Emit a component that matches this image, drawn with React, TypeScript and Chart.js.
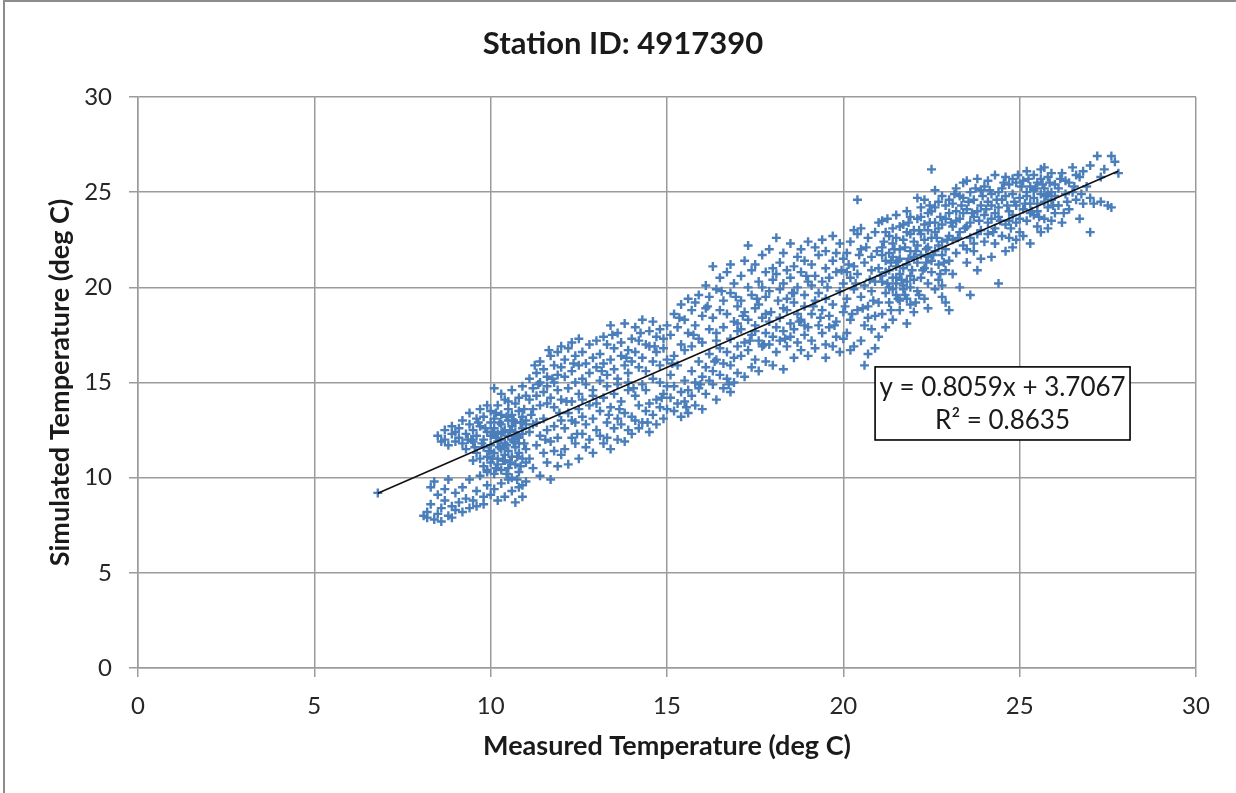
import React, { useEffect, useRef } from "react";
import { Chart, registerables } from "chart.js";

Chart.register(...registerables);

// ---------- Chart texts ----------
const chartTitle = "Station ID: 4917390";
const xAxisTitle = "Measured Temperature (deg C)";
const yAxisTitle = "Simulated Temperature (deg C)";
const equationLines = ["y = 0.8059x + 3.7067", "R\u00B2 = 0.8635"];

// ---------- Axis ticks ----------
const xTickValues = [0, 5, 10, 15, 20, 25, 30];
const yTickValues = [0, 5, 10, 15, 20, 25, 30];

// ---------- Trendline (from the displayed regression equation) ----------
const trendSlope = 0.8059;
const trendIntercept = 3.7067;
const trendRange = [6.8, 27.8];

// ---------- Observations: [measured, simulated] (deg C) ----------
const coolRange: number[][] = [
  [6.8, 9.2],
  [8.1, 8.0], [8.2, 7.9], [8.2, 8.2], [8.3, 9.5], [8.3, 8.6], [8.4, 7.8], [8.4, 9.8], [8.5, 8.1], [8.5, 9.1], [8.6, 7.7],
  [8.6, 8.4], [8.7, 9.4], [8.7, 8.8], [8.8, 8.0], [8.8, 9.9], [8.9, 8.5], [8.9, 7.9], [9.0, 9.2], [9.0, 8.3],
  [8.5, 12.2], [8.6, 11.9], [8.7, 12.5], [8.7, 12.0], [8.8, 11.7], [8.9, 12.3], [8.9, 12.7], [9.0, 11.9], [9.0, 12.4],
  [9.1, 8.7], [9.2, 8.2], [9.2, 9.5], [9.3, 8.9], [9.4, 8.4], [9.4, 9.9], [9.5, 8.8], [9.6, 9.3], [9.6, 8.5], [9.7, 10.1],
  [9.8, 9.0], [9.8, 8.6], [9.9, 9.6], [9.9, 10.3], [10.0, 9.1],
  [9.1, 12.1], [9.1, 12.6], [9.2, 11.8], [9.2, 13.0], [9.3, 12.3], [9.3, 11.5], [9.4, 12.8], [9.4, 13.4], [9.5, 11.9], [9.5, 12.5],
  [9.5, 10.9], [9.6, 13.1], [9.6, 11.3], [9.6, 12.2], [9.7, 12.7], [9.7, 11.0], [9.7, 13.6], [9.8, 12.0], [9.8, 10.6], [9.8, 11.6],
  [9.8, 13.2], [9.9, 12.4], [9.9, 11.1], [9.9, 13.8], [9.9, 10.4], [10.0, 12.9], [10.0, 11.7], [10.0, 10.8], [10.0, 12.2], [10.0, 13.5],
  [10.1, 14.7], [10.1, 11.3], [10.1, 12.6], [10.1, 10.2], [10.1, 13.1], [10.2, 11.9], [10.2, 10.7], [10.2, 12.3], [10.2, 13.8], [10.2, 11.0],
  [10.3, 12.8], [10.3, 11.5], [10.3, 10.4], [10.3, 13.3], [10.3, 12.0], [10.4, 11.2], [10.4, 12.5], [10.4, 10.9], [10.4, 14.1], [10.4, 11.8],
  [10.5, 13.0], [10.5, 12.2], [10.5, 10.5], [10.5, 11.4], [10.5, 13.6], [10.6, 12.7], [10.6, 11.1], [10.6, 12.0], [10.6, 10.0], [10.6, 13.3],
  [10.7, 11.6], [10.7, 12.4], [10.7, 10.7], [10.7, 13.9], [10.7, 12.9], [10.8, 11.3], [10.8, 12.1], [10.8, 10.3], [10.8, 13.5], [10.8, 11.8],
  [10.9, 12.6], [10.9, 11.0], [10.9, 13.2], [10.9, 12.3], [10.9, 9.6], [11.0, 11.5], [11.0, 12.8], [11.0, 10.8], [11.0, 14.3], [11.0, 13.0],
  [10.1, 9.4], [10.2, 8.8], [10.3, 9.7], [10.4, 9.0], [10.5, 9.9], [10.6, 9.3], [10.7, 8.7], [10.8, 9.5], [10.9, 9.0], [11.0, 9.8],
  [10.3, 14.4], [10.5, 14.0], [10.6, 14.6], [10.8, 14.2], [10.9, 14.8],
  [9.45, 12.0], [9.55, 11.6], [9.65, 12.9], [9.75, 11.8], [9.85, 12.6], [9.95, 11.4], [10.05, 12.4], [10.05, 11.0], [10.15, 13.4], [10.15, 12.1],
  [10.25, 11.6], [10.25, 12.9], [10.35, 10.9], [10.35, 12.4], [10.45, 13.2], [10.45, 11.7], [10.55, 12.5], [10.55, 10.8], [10.65, 11.9], [10.65, 13.0],
  [10.75, 12.2], [10.75, 11.1], [10.85, 12.9], [10.85, 10.6], [10.95, 11.8], [10.95, 13.6], [10.15, 10.5], [10.45, 10.2], [10.75, 9.9], [9.35, 12.0],
];

const mildRange: number[][] = [
  [11.1, 14.1], [11.1, 15.2], [11.2, 13.6], [11.2, 14.7], [11.3, 15.5], [11.3, 14.3], [11.4, 13.8], [11.4, 15.0], [11.4, 16.1], [11.5, 14.5],
  [11.5, 15.7], [11.6, 13.9], [11.6, 15.3], [11.6, 14.8], [11.7, 16.4], [11.7, 14.2], [11.8, 15.0], [11.8, 15.9], [11.8, 13.7], [11.9, 14.6],
  [11.9, 16.6], [11.9, 15.4], [12.0, 14.1], [12.0, 15.8], [12.0, 16.9],
  [11.1, 12.4], [11.1, 11.0], [11.2, 12.8], [11.2, 10.5], [11.3, 11.7], [11.3, 12.9], [11.4, 10.1], [11.4, 12.2], [11.5, 11.3], [11.5, 13.1],
  [11.6, 10.8], [11.6, 12.5], [11.7, 11.9], [11.7, 9.9], [11.8, 12.7], [11.8, 11.4], [11.9, 10.6], [11.9, 12.1], [12.0, 11.2], [12.0, 13.0],
  [12.1, 15.3], [12.1, 16.2], [12.2, 14.7], [12.2, 16.8], [12.3, 15.6], [12.3, 17.1], [12.4, 15.0], [12.4, 16.4], [12.5, 14.4], [12.5, 15.9],
  [12.5, 17.3], [12.6, 16.6], [12.6, 15.2], [12.7, 14.9], [12.7, 16.0], [12.8, 17.0], [12.8, 15.5], [12.9, 16.3], [12.9, 14.6], [13.0, 15.8],
  [13.0, 17.2],
  [12.1, 12.6], [12.1, 11.5], [12.2, 13.4], [12.2, 10.7], [12.3, 12.1], [12.3, 13.0], [12.4, 11.8], [12.4, 12.9], [12.5, 13.6], [12.5, 11.0],
  [12.6, 12.3], [12.6, 13.2], [12.7, 11.6], [12.7, 12.8], [12.8, 13.8], [12.8, 12.0], [12.9, 11.3], [12.9, 13.1], [13.0, 12.5], [13.0, 13.9],
  [12.3, 14.0], [12.6, 14.1], [12.9, 14.3],
  [13.1, 16.5], [13.1, 15.1], [13.2, 17.4], [13.2, 16.0], [13.3, 15.4], [13.3, 17.0], [13.4, 16.2], [13.4, 18.0], [13.5, 15.7], [13.5, 16.8],
  [13.6, 17.6], [13.6, 15.2], [13.7, 16.4], [13.7, 17.1], [13.8, 15.9], [13.8, 18.1], [13.9, 16.7], [13.9, 15.5], [14.0, 17.3], [14.0, 16.1],
  [13.1, 12.2], [13.1, 13.5], [13.2, 11.8], [13.2, 14.2], [13.3, 12.9], [13.3, 12.1], [13.4, 13.7], [13.4, 11.5], [13.5, 12.6], [13.5, 14.4],
  [13.6, 13.1], [13.6, 12.0], [13.7, 14.0], [13.7, 12.8], [13.8, 13.4], [13.8, 11.9], [13.9, 12.5], [13.9, 14.6], [14.0, 13.2], [14.0, 12.3],
  [13.3, 14.8], [13.6, 14.9], [13.9, 15.0],
  [14.1, 16.6], [14.1, 17.9], [14.2, 15.8], [14.2, 17.2], [14.3, 16.3], [14.3, 18.3], [14.4, 17.0], [14.4, 15.6], [14.5, 16.9], [14.5, 17.7],
  [14.6, 16.1], [14.6, 18.2], [14.7, 17.4], [14.7, 16.6], [14.8, 15.9], [14.8, 17.8], [14.9, 16.8], [14.9, 17.3], [15.0, 16.2], [15.0, 18.0],
  [14.1, 13.0], [14.1, 14.3], [14.2, 12.6], [14.2, 13.8], [14.3, 14.9], [14.3, 12.9], [14.4, 13.5], [14.4, 14.6], [14.5, 12.4], [14.5, 13.9],
  [14.6, 15.2], [14.6, 13.3], [14.7, 14.1], [14.7, 12.8], [14.8, 13.7], [14.8, 15.0], [14.9, 14.4], [14.9, 13.1], [15.0, 14.8], [15.0, 13.6],
  [11.15, 13.3], [11.35, 14.9], [11.55, 12.0], [11.75, 15.2], [11.95, 13.4], [12.15, 14.0], [12.35, 16.0], [12.45, 12.3], [11.25, 15.9], [11.65, 16.7],
  [13.15, 15.6], [13.45, 17.5], [13.65, 13.6], [13.85, 16.3], [14.05, 14.7], [14.25, 17.6], [14.45, 12.9], [14.65, 16.9], [14.85, 14.2], [13.35, 13.3],
];

const warmRange: number[][] = [
  [15.1, 17.5], [15.2, 18.6], [15.2, 16.4], [15.3, 17.9], [15.4, 19.1], [15.4, 17.0], [15.5, 18.3], [15.5, 16.7], [15.6, 19.4], [15.6, 17.6],
  [15.7, 18.8], [15.7, 16.9], [15.8, 19.2], [15.8, 18.0], [15.9, 17.3], [15.9, 19.6], [16.0, 18.5], [16.0, 17.1],
  [15.1, 14.2], [15.1, 15.4], [15.2, 13.5], [15.2, 14.8], [15.3, 13.9], [15.3, 15.9], [15.4, 14.5], [15.4, 13.2], [15.5, 15.1], [15.5, 14.0],
  [15.6, 14.6], [15.6, 13.4], [15.7, 15.6], [15.7, 14.3], [15.8, 13.8], [15.8, 15.0], [15.9, 14.7], [15.9, 16.1], [16.0, 13.6], [16.0, 15.3],
  [16.1, 18.9], [16.1, 20.1], [16.2, 17.8], [16.2, 19.5], [16.3, 21.1], [16.3, 18.4], [16.4, 19.9], [16.4, 17.6], [16.5, 18.8], [16.5, 20.5],
  [16.6, 19.3], [16.6, 17.9], [16.7, 20.8], [16.7, 18.6], [16.8, 19.7], [16.8, 21.2], [16.9, 18.2], [16.9, 20.2], [17.0, 19.0], [17.0, 17.7],
  [16.1, 15.8], [16.1, 14.4], [16.2, 15.1], [16.2, 16.5], [16.3, 14.9], [16.3, 15.6], [16.4, 16.2], [16.4, 14.1], [16.5, 15.4], [16.5, 16.8],
  [16.6, 14.7], [16.6, 16.0], [16.7, 15.2], [16.7, 16.6], [16.8, 14.5], [16.8, 15.9], [16.9, 16.3], [16.9, 15.0], [17.0, 16.9], [17.0, 15.5],
  [16.4, 17.2], [16.8, 17.3], [17.0, 18.1],
  [17.1, 20.6], [17.1, 19.3], [17.2, 21.4], [17.2, 18.7], [17.3, 20.0], [17.3, 22.2], [17.4, 19.6], [17.4, 20.9], [17.5, 18.9], [17.5, 21.2],
  [17.6, 20.3], [17.6, 19.1], [17.7, 21.7], [17.7, 20.0], [17.8, 19.5], [17.8, 20.8], [17.9, 22.0], [17.9, 19.8], [18.0, 21.0], [18.0, 20.4],
  [17.1, 16.4], [17.1, 17.8], [17.2, 15.3], [17.2, 17.1], [17.3, 16.7], [17.3, 18.3], [17.4, 15.8], [17.4, 17.5], [17.5, 16.2], [17.5, 18.0],
  [17.6, 17.2], [17.6, 15.6], [17.7, 16.9], [17.7, 18.4], [17.8, 17.6], [17.8, 16.1], [17.9, 17.0], [17.9, 18.2], [18.0, 15.9], [18.0, 17.4],
  [17.5, 17.7], [17.8, 18.6],
  [18.1, 20.7], [18.1, 22.6], [18.2, 19.9], [18.2, 21.3], [18.3, 20.2], [18.3, 21.8], [18.4, 19.4], [18.4, 20.9], [18.5, 22.3], [18.5, 20.5],
  [18.6, 21.1], [18.6, 19.7], [18.7, 20.0], [18.7, 21.6], [18.8, 22.0], [18.8, 20.8], [18.9, 19.6], [18.9, 21.4], [19.0, 20.3], [19.0, 22.4],
  [18.1, 17.9], [18.1, 16.6], [18.2, 18.4], [18.2, 17.2], [18.3, 15.7], [18.3, 17.7], [18.4, 18.8], [18.4, 16.9], [18.5, 17.4], [18.5, 18.1],
  [18.6, 16.3], [18.6, 17.8], [18.7, 18.6], [18.7, 17.1], [18.8, 16.7], [18.8, 18.3], [18.9, 17.5], [18.9, 19.0], [19.0, 16.4], [19.0, 17.9],
  [18.3, 18.9], [18.6, 19.2], [18.9, 18.0],
  [19.1, 21.2], [19.1, 20.1], [19.2, 22.1], [19.2, 20.6], [19.3, 21.7], [19.4, 20.3], [19.4, 22.5], [19.5, 21.0], [19.5, 21.9], [19.6, 20.5],
  [19.7, 21.4], [19.7, 22.7], [19.8, 20.8], [19.8, 21.8], [19.9, 22.3], [20.0, 21.5], [20.0, 20.2],
  [19.1, 18.6], [19.1, 17.2], [19.2, 19.3], [19.2, 16.8], [19.3, 18.0], [19.3, 19.7], [19.4, 17.6], [19.4, 18.8], [19.5, 16.3], [19.5, 19.4],
  [19.6, 17.9], [19.6, 18.5], [19.7, 16.9], [19.7, 19.1], [19.8, 17.4], [19.8, 18.2], [19.9, 19.8], [19.9, 16.6], [20.0, 18.7], [20.0, 17.3],
  [19.5, 17.0],
  [15.15, 16.0], [15.35, 18.4], [15.55, 13.7], [15.75, 17.5], [15.95, 14.9], [16.15, 19.0], [16.35, 16.1], [16.55, 19.8], [16.75, 14.9], [16.95, 19.5],
  [17.15, 18.5], [17.35, 17.2], [17.55, 19.4], [17.75, 17.0], [17.95, 18.7], [18.15, 19.3], [18.35, 17.3], [18.55, 19.7], [18.75, 18.2], [18.95, 20.6],
  [19.15, 19.0], [19.35, 18.4], [19.55, 20.0], [19.75, 18.0], [19.95, 20.9],
];

const hotRange: number[][] = [
  [20.1, 19.4], [20.1, 21.8], [20.1, 17.6], [20.2, 20.5], [20.2, 18.3], [20.2, 22.4], [20.3, 16.9], [20.3, 19.9], [20.3, 21.1], [20.4, 24.6],
  [20.4, 18.8], [20.4, 20.7], [20.5, 17.2], [20.5, 22.0], [20.5, 19.5], [20.6, 21.3], [20.6, 18.0], [20.6, 20.1], [20.7, 16.5], [20.7, 22.6],
  [20.7, 19.0], [20.8, 20.9], [20.8, 17.8], [20.8, 21.6], [20.9, 18.5], [20.9, 20.3], [20.9, 22.9], [21.0, 19.2], [21.0, 21.0], [21.0, 17.4],
  [20.2, 16.7], [20.5, 23.1], [20.6, 15.9], [20.8, 19.8], [21.0, 23.4], [20.3, 23.0], [20.9, 16.8], [20.4, 22.8], [20.7, 18.4], [20.1, 20.8],
  [21.1, 20.3], [21.1, 22.1], [21.1, 18.6], [21.1, 23.5], [21.2, 19.7], [21.2, 21.4], [21.2, 20.8], [21.2, 17.9], [21.3, 22.7], [21.3, 20.0],
  [21.3, 21.8], [21.3, 19.2], [21.4, 23.1], [21.4, 20.5], [21.4, 18.3], [21.4, 22.3], [21.5, 21.1], [21.5, 19.6], [21.5, 23.8], [21.5, 20.2],
  [21.6, 22.0], [21.6, 18.8], [21.6, 21.5], [21.6, 20.7], [21.7, 23.3], [21.7, 19.9], [21.7, 22.5], [21.7, 20.1], [21.8, 21.2], [21.8, 18.1],
  [21.8, 22.9], [21.8, 19.4], [21.9, 20.6], [21.9, 23.7], [21.9, 21.9], [21.9, 19.1], [22.0, 22.4], [22.0, 20.4], [22.0, 23.0], [22.0, 18.7],
  [21.2, 22.9], [21.4, 21.6], [21.5, 22.6], [21.6, 23.2], [21.7, 21.0], [21.8, 20.3], [21.9, 22.8], [21.3, 20.9], [21.6, 19.3], [21.9, 20.0],
  [21.1, 21.7], [21.5, 20.5], [21.8, 24.0], [22.0, 21.6], [21.4, 19.9],
  [22.1, 21.3], [22.1, 23.6], [22.1, 19.8], [22.1, 22.2], [22.2, 24.2], [22.2, 20.5], [22.2, 22.8], [22.2, 21.7], [22.3, 19.4], [22.3, 23.3],
  [22.3, 21.0], [22.3, 24.6], [22.4, 22.1], [22.4, 20.2], [22.4, 23.9], [22.4, 21.6], [22.5, 26.2], [22.5, 22.6], [22.5, 20.8], [22.5, 24.0],
  [22.6, 21.9], [22.6, 23.4], [22.6, 19.9], [22.6, 22.9], [22.7, 24.5], [22.7, 21.2], [22.7, 23.1], [22.7, 20.4], [22.8, 22.4], [22.8, 24.8],
  [22.8, 21.7], [22.8, 19.5], [22.9, 23.6], [22.9, 22.0], [22.9, 20.9], [22.9, 24.3], [23.0, 21.4], [23.0, 23.9], [23.0, 22.7], [23.0, 18.8],
  [22.2, 23.7], [22.4, 23.0], [22.6, 24.2], [22.8, 23.3], [23.0, 24.6], [22.3, 22.5], [22.7, 22.2], [22.9, 19.2], [22.5, 21.4], [22.1, 24.7],
  [22.6, 25.1], [22.8, 20.1], [22.4, 18.9],
  [23.1, 22.5], [23.1, 24.4], [23.1, 20.7], [23.2, 23.5], [23.2, 25.2], [23.2, 21.8], [23.3, 22.9], [23.3, 24.8], [23.3, 20.0], [23.4, 23.9],
  [23.4, 22.2], [23.4, 25.5], [23.5, 21.3], [23.5, 24.1], [23.5, 23.2], [23.6, 22.6], [23.6, 25.0], [23.6, 19.6], [23.7, 23.7], [23.7, 21.9],
  [23.7, 24.6], [23.8, 22.8], [23.8, 25.7], [23.8, 20.9], [23.9, 24.3], [23.9, 23.0], [23.9, 21.5], [24.0, 25.3], [24.0, 22.4], [24.0, 23.8],
  [23.2, 24.0], [23.4, 24.7], [23.6, 23.4], [23.8, 24.0], [23.3, 23.6], [23.5, 25.6], [23.7, 22.3], [23.9, 25.1], [23.1, 23.2], [23.5, 22.0],
  [24.1, 24.5], [24.1, 22.8], [24.1, 25.6], [24.2, 23.6], [24.2, 21.6], [24.2, 24.9], [24.3, 23.1], [24.3, 25.9], [24.3, 22.3], [24.4, 24.2],
  [24.4, 20.2], [24.4, 23.7], [24.5, 25.2], [24.5, 22.7], [24.5, 24.6], [24.6, 23.3], [24.6, 25.8], [24.6, 21.9], [24.7, 24.0], [24.7, 22.6],
  [24.7, 25.4], [24.8, 23.8], [24.8, 24.9], [24.8, 22.1], [24.9, 23.4], [24.9, 25.5], [24.9, 24.3], [25.0, 22.9], [25.0, 24.7], [25.0, 23.6],
  [24.2, 24.3], [24.4, 25.0], [24.6, 24.8], [24.8, 25.7], [24.3, 23.9], [24.7, 23.5], [24.9, 22.5], [24.1, 23.4],
  [25.1, 24.1], [25.1, 25.6], [25.1, 22.7], [25.2, 23.5], [25.2, 25.0], [25.2, 26.1], [25.3, 24.4], [25.3, 22.3], [25.3, 25.3], [25.4, 23.8],
  [25.4, 25.9], [25.4, 24.7], [25.5, 23.2], [25.5, 25.5], [25.5, 24.0], [25.6, 26.2], [25.6, 24.9], [25.6, 22.9], [25.7, 25.2], [25.7, 23.6],
  [25.7, 24.5], [25.8, 25.8], [25.8, 24.2], [25.8, 23.1], [25.9, 25.0], [25.9, 26.0], [25.9, 24.6], [26.0, 23.9], [26.0, 25.4], [26.0, 24.8],
  [25.2, 24.8], [25.4, 25.1], [25.6, 25.7], [25.8, 24.9], [25.3, 23.9], [25.7, 26.3], [25.9, 23.5], [25.5, 24.4],
  [26.1, 25.2], [26.1, 24.3], [26.2, 26.0], [26.2, 23.4], [26.3, 24.9], [26.3, 25.6], [26.4, 24.1], [26.5, 26.3], [26.5, 25.0], [26.6, 24.6],
  [26.7, 25.8], [26.7, 23.6], [26.8, 24.4], [26.8, 26.1], [26.9, 25.3], [27.0, 22.9], [27.0, 24.7], [27.0, 26.4], [26.4, 25.5], [26.6, 25.9],
  [27.1, 24.4], [27.2, 26.9], [27.3, 24.5], [27.4, 26.2], [27.5, 24.3], [27.6, 26.9], [27.6, 24.2], [27.7, 26.6], [27.8, 26.0], [27.3, 25.8],
  [20.05, 19.0], [20.15, 21.2], [20.25, 18.6], [20.35, 20.2], [20.45, 21.7], [20.55, 18.9], [20.65, 22.1], [20.75, 20.4], [20.85, 19.3], [20.95, 21.9],
  [21.05, 20.6], [21.15, 22.4], [21.25, 20.2], [21.35, 21.3], [21.45, 22.0], [21.55, 21.4], [21.65, 20.4], [21.75, 22.1], [21.85, 21.5], [21.95, 20.9],
  [22.05, 21.9], [22.15, 23.0], [22.25, 20.9], [22.35, 22.0], [22.45, 23.4], [22.55, 21.7], [22.65, 22.6], [22.75, 23.7], [22.85, 21.3], [22.95, 22.5],
  [21.25, 23.6], [21.55, 19.4], [21.85, 23.4], [22.15, 19.6], [22.45, 24.3], [22.75, 20.7], [21.35, 18.8], [21.75, 19.6], [22.05, 19.2], [22.35, 21.3],
  [23.05, 23.4], [23.15, 24.9], [23.25, 22.6], [23.35, 24.3], [23.45, 23.1], [23.55, 24.5], [23.65, 23.9], [23.75, 25.2], [23.85, 23.5], [23.95, 24.8],
  [24.05, 24.1], [24.15, 25.1], [24.25, 22.9], [24.35, 24.6], [24.45, 23.5], [24.55, 25.5], [24.65, 24.3], [24.75, 23.1], [24.85, 24.5], [24.95, 25.9],
  [25.05, 25.3], [25.15, 24.4], [25.25, 25.7], [25.35, 24.0], [25.45, 25.2], [25.55, 23.7], [25.65, 25.4], [25.75, 24.8], [25.85, 25.5], [25.95, 24.3],
  [26.15, 25.7], [26.35, 24.5], [26.55, 25.3], [26.75, 24.9], [26.25, 23.9],
];

// ---------- Equation box corners in data units ----------
const eqBoxX = [20.9, 28.13];
const eqBoxY = [15.82, 11.98];

const FONT = "Lato, 'Open Sans', sans-serif";
const GRID = "#9b9b9b";
const MARKER = "#4A7EBB";

const equationPlugin = {
  id: "equationBox",
  afterDatasetsDraw(chart: any) {
    const { ctx, scales } = chart;
    const x = scales.x;
    const y = scales.y;
    const l = x.getPixelForValue(eqBoxX[0]);
    const r = x.getPixelForValue(eqBoxX[1]);
    const t = y.getPixelForValue(eqBoxY[0]);
    const b = y.getPixelForValue(eqBoxY[1]);
    ctx.save();
    ctx.fillStyle = "#ffffff";
    ctx.fillRect(l, t, r - l, b - t);
    ctx.strokeStyle = "#000000";
    ctx.lineWidth = 1.6;
    ctx.strokeRect(l, t, r - l, b - t);
    ctx.fillStyle = "#1a1a1a";
    ctx.font = `26px ${FONT}`;
    ctx.textAlign = "center";
    ctx.textBaseline = "middle";
    const cx = (l + r) / 2;
    const h = b - t;
    ctx.fillText(equationLines[0], cx, t + h * 0.29);
    ctx.fillText(equationLines[1], cx, t + h * 0.73);
    ctx.restore();
  },
};

export default function App() {
  const canvasRef = useRef<HTMLCanvasElement | null>(null);

  useEffect(() => {
    document.body.style.margin = "0";
    const canvas = canvasRef.current;
    if (!canvas) return;
    const allPoints = [...coolRange, ...mildRange, ...warmRange, ...hotRange].map(([mx, sy]) => ({ x: mx, y: sy }));
    const trendPoints = trendRange.map((tx) => ({ x: tx, y: trendSlope * tx + trendIntercept }));

    const chart = new Chart(canvas, {
      type: "scatter",
      data: {
        datasets: [
          {
            type: "line",
            label: "Linear trend",
            data: trendPoints,
            borderColor: "#111111",
            borderWidth: 1.6,
            pointRadius: 0,
            fill: false,
            order: 0,
          } as any,
          {
            label: "Observations",
            data: allPoints,
            pointStyle: "cross",
            pointRadius: 4.5,
            pointBorderWidth: 2.4,
            borderColor: MARKER,
            backgroundColor: MARKER,
            order: 1,
          } as any,
        ],
      },
      options: {
        responsive: false,
        animation: false,
        layout: { padding: { left: 50, right: 40, top: 0, bottom: 0 } },
        plugins: {
          legend: { display: false },
          tooltip: { enabled: false },
          title: {
            display: true,
            text: chartTitle,
            color: "#1a1a1a",
            font: { family: FONT, size: 31, weight: "bold", lineHeight: 1.2 },
            padding: { top: 25.4, bottom: 34.4 },
          },
        },
        scales: {
          x: {
            type: "linear",
            min: 0,
            max: 30,
            afterBuildTicks: (scale: any) => {
              scale.ticks = xTickValues.map((v) => ({ value: v }));
            },
            afterFit: (scale: any) => {
              scale.height = 125;
            },
            grid: { color: GRID, lineWidth: 1.5, tickLength: 9, drawTicks: true },
            border: { color: GRID, width: 1.5 },
            ticks: { color: "#262626", font: { family: FONT, size: 24 }, padding: 15 },
            title: {
              display: true,
              text: xAxisTitle,
              color: "#1a1a1a",
              font: { family: FONT, size: 27, weight: "bold", lineHeight: 1.2 },
              padding: { top: 0, bottom: 31 },
            },
          },
          y: {
            type: "linear",
            min: 0,
            max: 30,
            afterBuildTicks: (scale: any) => {
              scale.ticks = yTickValues.map((v) => ({ value: v }));
            },
            afterFit: (scale: any) => {
              scale.width = 88;
            },
            grid: { color: GRID, lineWidth: 1.5, tickLength: 9, drawTicks: true },
            border: { color: GRID, width: 1.5 },
            ticks: { color: "#262626", font: { family: FONT, size: 24 }, padding: 17 },
            title: {
              display: true,
              text: yAxisTitle,
              color: "#1a1a1a",
              font: { family: FONT, size: 27, weight: "bold", lineHeight: 1.2 },
              padding: { top: -6.2, bottom: 0 },
            },
          },
        },
      },
      plugins: [equationPlugin],
    });
    return () => chart.destroy();
  }, []);

  return (
    <div style={{ position: "relative", width: 1236, height: 793, background: "#ffffff", overflow: "hidden" }}>
      <canvas ref={canvasRef} width={1236} height={793} style={{ display: "block" }} />
      <div
        style={{
          position: "absolute",
          left: 3,
          top: 0,
          width: 1300,
          height: 900,
          borderLeft: "2px solid #8c8c8c",
          borderTop: "2px solid #8c8c8c",
          pointerEvents: "none",
        }}
      />
    </div>
  );
}
